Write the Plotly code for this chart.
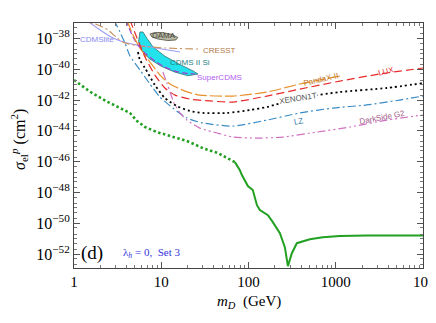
import plotly.graph_objects as go

# ---------------- data ----------------
# model prediction, dotted part (excluded region) and solid part
green_dot_m = [1.0, 1.52, 2.39, 3.64, 4.38, 5.27, 6.51, 8.93, 19.7, 30.0, 44.6, 69.9]
green_dot_s = [2.0e-41, 3.55e-42, 7.94e-43, 2.24e-43, 1.45e-43, 4.37e-44, 1.78e-44,
               8.32e-45, 2.19e-45, 7.59e-46, 3.63e-46, 9.33e-47]
green_sol_m = [69.9, 79.6, 84.0, 98.4, 112, 118, 125, 135, 167, 190, 229, 261, 283,
               314, 358, 505, 711, 1114, 2270, 10000]
green_sol_s = [9.33e-47, 2.82e-47, 1.35e-47, 2.63e-48, 1.45e-48, 5.01e-49, 1.51e-49,
               7.24e-50, 3.39e-50, 1.20e-50, 2.29e-51, 2.82e-52, 1.66e-53, 1.15e-52,
               5.13e-52, 9.33e-52, 1.26e-51, 1.48e-51, 1.62e-51, 1.62e-51]

cdmslite_m = [1.37, 1.99, 2.80, 4.05, 7.42, 16.4]
cdmslite_s = [1.6e-37, 3.55e-38, 1.07e-38, 5.01e-39, 2.75e-39, 1.32e-39]

cresst_m = [1.17, 1.74, 2.45, 3.11, 3.84, 5.70, 11.0, 26.3]
cresst_s = [1.55e-37, 8.7e-38, 3.55e-38, 1.07e-38, 5.01e-39, 3.24e-39, 2.40e-39, 2.04e-39]

dama_m = [7.42, 8.47, 10.45, 13.3, 15.5, 14.7, 11.9, 9.17, 7.82, 7.42]
dama_s = [1.95e-38, 2.4e-38, 2.4e-38, 1.78e-38, 1.15e-38, 7.94e-39, 7.24e-39, 9.12e-39,
          1.23e-38, 1.95e-38]

cdms2si_m = [5.70, 5.50, 5.95, 7.30, 10.0, 14.2, 20.2, 26.3, 23.1, 16.4, 11.0, 8.04, 6.86,
             6.17, 5.70]
cdms2si_s = [2.6e-38, 6.3e-39, 1.70e-39, 4.80e-40, 1.55e-40, 6.60e-41, 3.80e-41, 4.90e-41,
             7.80e-41, 2.00e-40, 7.00e-40, 2.80e-39, 1.00e-38, 2.6e-38, 2.6e-38]

supercdms_m = [3.94, 4.27, 4.74, 5.41, 6.51, 8.47, 11.0, 14.4, 18.7, 24.3]
supercdms_s = [1.55e-37, 4.79e-38, 1.23e-38, 3.72e-39, 1.12e-39, 3.39e-40, 1.38e-40,
               7.59e-41, 5.62e-41, 4.90e-41]

pandax_m = [4.05, 4.74, 5.70, 7.42, 9.67, 12.6, 18.7, 27.7, 66.3, 163, 388, 1114]
pandax_s = [1.55e-37, 1.66e-38, 2.40e-39, 2.95e-40, 4.17e-41, 1.10e-41, 3.80e-42, 2.09e-42,
            1.82e-42, 3.31e-42, 1.10e-41, 3.63e-41]

lux_m = [4.38, 5.27, 6.51, 8.47, 11.0, 14.4, 21.3, 36.1, 66.3, 163, 388, 1114, 3200, 10000]
lux_s = [1.55e-37, 1.07e-38, 6.17e-40, 4.17e-41, 6.03e-42, 2.09e-42, 1.15e-42, 8.71e-43,
         7.41e-43, 1.82e-42, 5.13e-42, 1.70e-41, 4.90e-41, 1.20e-40]

xenon_m = [5.41, 5.70, 6.51, 8.47, 11.0, 15.1, 21.3, 30.0, 56.6, 104, 163, 388, 1114, 3846,
           10000]
xenon_s = [1.32e-39, 3.98e-40, 1.20e-40, 9.33e-42, 1.35e-42, 4.07e-43, 1.95e-43, 1.45e-43,
           1.45e-43, 2.24e-43, 3.55e-43, 1.35e-42, 3.31e-42, 6.03e-42, 1.26e-41]

lz_m = [2.87, 3.36, 3.84, 4.38, 5.70, 7.42, 9.67, 13.6, 19.7, 30.0, 66.3, 163, 388, 927,
        2270, 5420, 10000]
lz_s = [1.55e-37, 2.63e-38, 5.01e-39, 7.24e-40, 8.91e-41, 1.10e-41, 1.55e-42, 3.02e-43,
        6.76e-44, 3.24e-44, 2.04e-44, 5.01e-44, 1.45e-43, 3.02e-43, 4.79e-43, 1.0e-42,
        1.82e-42]

darkside_m = [10.45, 11.6, 12.6, 14.0, 16.4, 19.7, 27.7, 43.5, 66.3, 135, 248, 608, 1452,
              3846, 10000]
darkside_s = [6.61e-41, 1.26e-41, 3.31e-42, 6.46e-43, 1.45e-43, 5.01e-44, 1.51e-44,
              7.24e-45, 3.98e-45, 3.39e-45, 3.98e-45, 8.32e-45, 1.78e-44, 5.01e-44,
              1.07e-43]

x_tick_vals = [1, 10, 100, 1000, 10000]
x_tick_text = ["1", "10", "100", "1000", "10<sup>4</sup>"]
y_label_exps = [-52, -50, -48, -46, -44, -42, -40, -38]

# ---------------- figure ----------------
# the page body has an 8px margin, so the figure sits at (8, 8) in the window
OFF = 8
W, H = 436 - OFF, 323 - OFF
L, R, T, B = 74 - OFF, 13, 23 - OFF, 55
PW, PH = W - L - R, H - T - B


def px(xp):
    return (xp - OFF - L) / PW


def py(yp):
    return (H - B - (yp - OFF)) / PH


fig = go.Figure()

# filled regions
fig.add_trace(go.Scatter(x=cdms2si_m, y=cdms2si_s, mode="lines", fill="toself",
                         fillcolor="#22e3ec", line=dict(color="#2a6f70", width=0.8),
                         hoverinfo="skip"))
fig.add_trace(go.Scatter(x=dama_m, y=dama_s, mode="lines", fill="toself",
                         fillcolor="#b8b8a4", line=dict(color="#4e4e40", width=0.8),
                         hoverinfo="skip"))


def add_line(xs, ys, color, width, dash):
    fig.add_trace(go.Scatter(x=xs, y=ys, mode="lines",
                             line=dict(color=color, width=width, dash=dash, shape="spline",
                                       smoothing=0.6),
                             hoverinfo="skip"))


add_line(cdmslite_m, cdmslite_s, "#9b9bf5", 1.1, "solid")
add_line(cresst_m, cresst_s, "#c8905a", 1.1, "8px,3px,2px,3px")
add_line(supercdms_m, supercdms_s, "#a040d8", 1.2, "6px,3px")
add_line(pandax_m, pandax_s, "#e8902a", 1.2, "12px,3px")
add_line(lux_m, lux_s, "#e82a2a", 1.2, "8px,4px")
add_line(xenon_m, xenon_s, "#000000", 1.8, "2px,3px")
add_line(lz_m, lz_s, "#3a8cc4", 1.2, "8px,3px,2px,3px")
add_line(darkside_m, darkside_s, "#d070c0", 1.2, "8px,3px,2px,3px,2px,3px")

fig.add_trace(go.Scatter(x=green_dot_m, y=green_dot_s, mode="lines",
                         line=dict(color="#22a022", width=2.6, dash="2.5px,2.5px"),
                         hoverinfo="skip"))
fig.add_trace(go.Scatter(x=green_sol_m, y=green_sol_s, mode="lines",
                         line=dict(color="#22a022", width=2.0),
                         hoverinfo="skip"))

# axes
x_minor = [k * 10 ** n for n in range(0, 4) for k in range(2, 10)]
y_minor = [k * 10.0 ** n for n in range(-53, -37) for k in (1, 2, 5)
           if not (k == 1 and n in y_label_exps)]

fig.update_xaxes(type="log", range=[0, 4], tickmode="array", tickvals=x_tick_vals,
                 ticktext=x_tick_text, ticks="inside", ticklen=6, tickwidth=1,
                 tickcolor="#555", showline=True, linecolor="#444", linewidth=1,
                 mirror="allticks", showgrid=False, zeroline=False, automargin=False,
                 tickfont=dict(family="Liberation Serif", size=15, color="black"),
                 minor=dict(tickmode="array", tickvals=x_minor, ticks="inside",
                            ticklen=3, tickcolor="#777", showgrid=False))

y_vals = [10.0 ** e for e in y_label_exps]
y_text = ["10<sup>\u2212%d</sup>" % (-e) for e in y_label_exps]
fig.update_yaxes(type="log", range=[-52.9, -37.0], tickmode="array", tickvals=y_vals,
                 ticktext=y_text, ticks="inside", ticklen=6, tickwidth=1,
                 tickcolor="#555", showline=True, linecolor="#444", linewidth=1,
                 mirror="allticks", showgrid=False, zeroline=False, automargin=False,
                 tickfont=dict(family="Liberation Serif", size=16, color="black"),
                 minor=dict(tickmode="array", tickvals=y_minor, ticks="inside",
                            ticklen=3, tickcolor="#777", showgrid=False))

ann = []


def label(text, xp, yp, color, size=8, angle=0, family="Liberation Sans", bg=None,
          xanchor="center"):
    d = dict(text=text, x=px(xp), y=py(yp), xref="paper", yref="paper", showarrow=False,
             font=dict(family=family, size=size, color=color), textangle=angle,
             xanchor=xanchor, yanchor="middle")
    if bg:
        d["bgcolor"] = bg
        d["borderpad"] = 0
    ann.append(d)


label("CDMSlite", 97, 39, "#8a8af0")
label("DAMA", 164, 36, "#4a4a40")
label("CRESST", 219, 50, "#b07a44")
label("CDMS II Si", 190, 62, "#2a8282")
label("SuperCDMS", 219, 77, "#b060f0")
label("PandaX-II", 321, 79, "#c07828", angle=-13)
label("LUX", 386, 71, "#e03030", angle=-14)
label("XENON1T", 298, 98, "#555555", angle=-9, bg="white")
label("LZ", 298, 122, "#3878a8", angle=-10)
label("DarkSide G2", 382, 117, "#a05888", angle=-11)

label("(d)", 92, 253, "black", size=19, family="Liberation Serif")
label("\u03bb<sub><i>h</i></sub> = 0,  Set 3", 121, 253, "#3333dd", size=11,
      family="Liberation Serif", xanchor="left")

label("<i>m</i><sub><i>D</i></sub>  (GeV)", 249, 302, "black", size=15,
      family="Liberation Serif")
label("<i>\u03c3</i><sub>el</sub><sup><i>p</i></sup> (cm<sup>2</sup>)", 19, 140, "black",
      size=16, angle=-90, family="Liberation Serif")

fig.update_layout(width=W, height=H, margin=dict(l=L, r=R, t=T, b=B, autoexpand=False),
                  paper_bgcolor="white", plot_bgcolor="white", showlegend=False,
                  annotations=ann)

fig.write_html("out.html")
